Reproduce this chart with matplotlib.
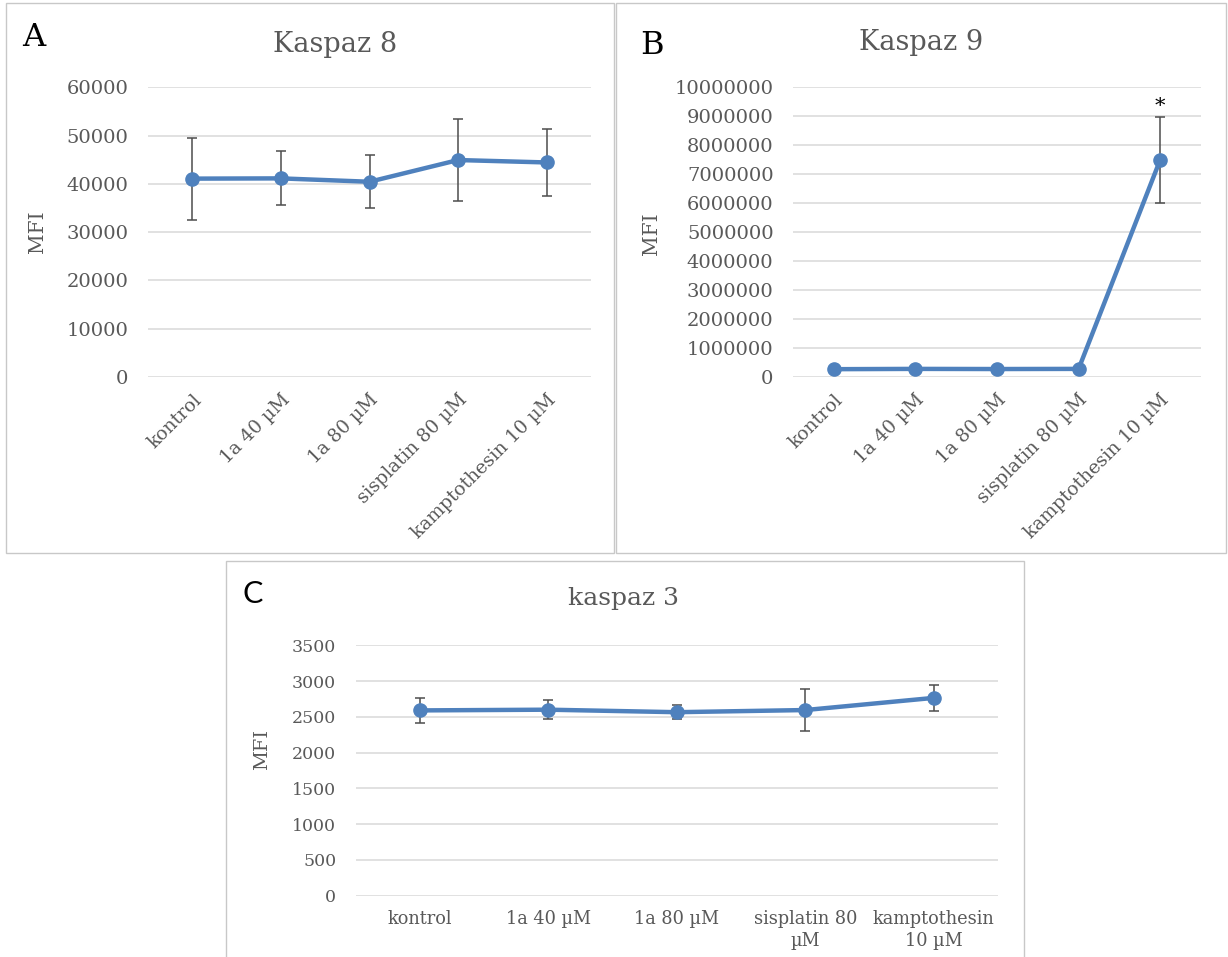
import matplotlib
matplotlib.use("Agg")
import matplotlib.pyplot as plt
from matplotlib.patches import Rectangle
from matplotlib.ticker import FuncFormatter

# treatment groups and MFI readings (mean, error) per caspase
groups = ["kontrol", "1a 40 µM", "1a 80 µM", "sisplatin 80 µM", "kamptothesin 10 µM"]
groups_c = ["kontrol", "1a 40 µM", "1a 80 µM", "sisplatin 80\nµM", "kamptothesin\n10 µM"]

casp8_mean = [41100, 41150, 40450, 44950, 44450]
casp8_err = [8500, 5600, 5500, 8500, 7000]

casp9_mean = [270000, 280000, 275000, 280000, 7500000]
casp9_err = [20000, 20000, 20000, 20000, 1480000]

casp3_mean = [2590, 2600, 2565, 2595, 2765]
casp3_err = [170, 135, 95, 290, 185]

LINE = "#4f81bd"
TXT = "#595959"
GRID = "#d9d9d9"
FONT = "DejaVu Serif"

W, H = 1228, 957
fig = plt.figure(figsize=(W / 100, H / 100), dpi=100)
fig.patch.set_facecolor("white")


def px_box(x0, y0, x1, y1):
    # pixel box (top-left origin) -> figure fraction rect
    return [x0 / W, 1 - y1 / H, (x1 - x0) / W, (y1 - y0) / H]


def frame(x0, y0, x1, y1):
    fig.patches.append(Rectangle((x0 / W, 1 - y1 / H), (x1 - x0) / W, (y1 - y0) / H,
                                 transform=fig.transFigure, fill=False,
                                 edgecolor="#c8c8c8", linewidth=1.0))


def draw_panel(rect, labels, mean, err, ymax, ystep, tick_size, rot, lab_size):
    ax = fig.add_axes(rect)
    xs = range(len(mean))
    ax.errorbar(xs, mean, yerr=err, fmt="none", ecolor="#4d4d4d", elinewidth=1.1,
                capsize=3.4, capthick=1.1, zorder=2)
    ax.plot(xs, mean, color=LINE, linewidth=3.2, marker="o", markersize=9.5,
            solid_capstyle="round", zorder=3)
    ax.set_xlim(-0.5, len(mean) - 0.5)
    ax.set_ylim(0, ymax)
    ax.set_yticks([ystep * i for i in range(int(round(ymax / ystep)) + 1)])
    ax.yaxis.set_major_formatter(FuncFormatter(lambda v, p: f"{v:.0f}"))
    ax.set_xticks(list(xs))
    if rot:
        ax.set_xticklabels(labels, rotation=45, ha="right", va="top",
                           rotation_mode="anchor", fontsize=lab_size,
                           family=FONT, color=TXT)
        ax.tick_params(axis="x", pad=10)
    else:
        ax.set_xticklabels(labels, fontsize=lab_size, family=FONT, color=TXT,
                           linespacing=1.3)
        ax.tick_params(axis="x", pad=10)
    for t in ax.get_yticklabels():
        t.set_family(FONT)
        t.set_fontsize(tick_size)
        t.set_color(TXT)
    ax.tick_params(axis="both", length=0)
    ax.tick_params(axis="y", pad=14)
    for s in ax.spines.values():
        s.set_visible(False)
    ax.grid(axis="y", color=GRID, linewidth=1.1)
    ax.set_axisbelow(True)
    return ax


# panel borders
frame(6, 3, 614, 553)
frame(616, 3, 1226, 553)
frame(226, 561, 1024, 975)

ax_a = draw_panel(px_box(148, 87.4, 591, 377), groups, casp8_mean, casp8_err,
                  60000, 10000, 14, True, 13.5)
ax_b = draw_panel(px_box(793, 87.4, 1201, 377), groups, casp9_mean, casp9_err,
                  10000000, 1000000, 14, True, 13.5)
ax_c = draw_panel(px_box(355.6, 645.3, 998, 895.7), groups_c, casp3_mean, casp3_err,
                  3500, 500, 12.5, False, 12.8)

# significance mark over kamptothesin in caspase 9
ax_b.annotate("*", (4, casp9_mean[4] + casp9_err[4]), xytext=(0, 1),
              textcoords="offset points", ha="center", va="bottom",
              fontsize=15, family=FONT, color="black")


def ftext(x, y, s, family=FONT, **kw):
    fig.text(x / W, 1 - y / H, s, ha="center", va="center", family=family, **kw)


ftext(335, 44, "Kaspaz 8", fontsize=19.5, color=TXT)
ftext(921, 43, "Kaspaz 9", fontsize=19.5, color=TXT)
ftext(624, 598, "kaspaz 3", fontsize=18, color=TXT)

ftext(34, 38, "A", fontsize=23, color="black")
ftext(652, 46, "B", fontsize=23, color="black")
ftext(253, 594, "C", family="Lato", fontsize=22, color="black")

ftext(37, 232, "MFI", fontsize=14.5, color=TXT, rotation=90)
ftext(652, 234, "MFI", fontsize=14.5, color=TXT, rotation=90)
ftext(262, 749, "MFI", fontsize=14, color=TXT, rotation=90)

fig.savefig("out.png", dpi=100, facecolor="white")
